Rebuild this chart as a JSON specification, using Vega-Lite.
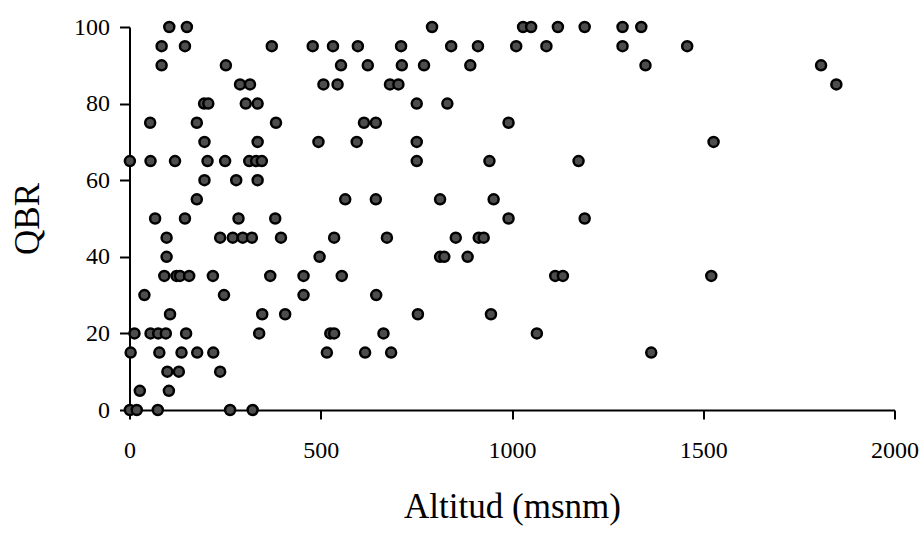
{
  "$schema": "https://vega.github.io/schema/vega-lite/v6.json",
  "width": 765,
  "height": 383,
  "autosize": "none",
  "padding": {"left": 129.5, "top": 27, "right": 26.5, "bottom": 124},
  "background": "white",
  "config": {"view": {"stroke": null}, "font": "Liberation Serif"},
  "data": {"values": [
    {"alt": 104, "qbr": 100}, {"alt": 150, "qbr": 100}, {"alt": 791, "qbr": 100}, {"alt": 1029, "qbr": 100}, {"alt": 1050, "qbr": 100}, {"alt": 1120, "qbr": 100}, {"alt": 1190, "qbr": 100}, {"alt": 1289, "qbr": 100}, {"alt": 1338, "qbr": 100},
    {"alt": 84, "qbr": 95}, {"alt": 145, "qbr": 95}, {"alt": 372, "qbr": 95}, {"alt": 479, "qbr": 95}, {"alt": 532, "qbr": 95}, {"alt": 597, "qbr": 95}, {"alt": 710, "qbr": 95}, {"alt": 841, "qbr": 95}, {"alt": 911, "qbr": 95}, {"alt": 1011, "qbr": 95}, {"alt": 1090, "qbr": 95}, {"alt": 1289, "qbr": 95}, {"alt": 1458, "qbr": 95},
    {"alt": 84, "qbr": 90}, {"alt": 252, "qbr": 90}, {"alt": 553, "qbr": 90}, {"alt": 623, "qbr": 90}, {"alt": 712, "qbr": 90}, {"alt": 770, "qbr": 90}, {"alt": 891, "qbr": 90}, {"alt": 1349, "qbr": 90}, {"alt": 1808, "qbr": 90},
    {"alt": 289, "qbr": 85}, {"alt": 315, "qbr": 85}, {"alt": 507, "qbr": 85}, {"alt": 544, "qbr": 85}, {"alt": 681, "qbr": 85}, {"alt": 703, "qbr": 85}, {"alt": 1848, "qbr": 85},
    {"alt": 195, "qbr": 80}, {"alt": 206, "qbr": 80}, {"alt": 304, "qbr": 80}, {"alt": 335, "qbr": 80}, {"alt": 751, "qbr": 80}, {"alt": 831, "qbr": 80},
    {"alt": 54, "qbr": 75}, {"alt": 176, "qbr": 75}, {"alt": 383, "qbr": 75}, {"alt": 613, "qbr": 75}, {"alt": 644, "qbr": 75}, {"alt": 991, "qbr": 75},
    {"alt": 196, "qbr": 70}, {"alt": 335, "qbr": 70}, {"alt": 494, "qbr": 70}, {"alt": 594, "qbr": 70}, {"alt": 751, "qbr": 70}, {"alt": 1527, "qbr": 70},
    {"alt": 1, "qbr": 65}, {"alt": 55, "qbr": 65}, {"alt": 119, "qbr": 65}, {"alt": 204, "qbr": 65}, {"alt": 250, "qbr": 65}, {"alt": 313, "qbr": 65}, {"alt": 331, "qbr": 65}, {"alt": 346, "qbr": 65}, {"alt": 751, "qbr": 65}, {"alt": 941, "qbr": 65}, {"alt": 1174, "qbr": 65},
    {"alt": 196, "qbr": 60}, {"alt": 279, "qbr": 60}, {"alt": 335, "qbr": 60},
    {"alt": 176, "qbr": 55}, {"alt": 564, "qbr": 55}, {"alt": 644, "qbr": 55}, {"alt": 812, "qbr": 55}, {"alt": 952, "qbr": 55},
    {"alt": 67, "qbr": 50}, {"alt": 145, "qbr": 50}, {"alt": 285, "qbr": 50}, {"alt": 381, "qbr": 50}, {"alt": 991, "qbr": 50}, {"alt": 1190, "qbr": 50},
    {"alt": 97, "qbr": 45}, {"alt": 237, "qbr": 45}, {"alt": 270, "qbr": 45}, {"alt": 296, "qbr": 45}, {"alt": 320, "qbr": 45}, {"alt": 396, "qbr": 45}, {"alt": 535, "qbr": 45}, {"alt": 673, "qbr": 45}, {"alt": 853, "qbr": 45}, {"alt": 913, "qbr": 45}, {"alt": 926, "qbr": 45},
    {"alt": 97, "qbr": 40}, {"alt": 497, "qbr": 40}, {"alt": 812, "qbr": 40}, {"alt": 823, "qbr": 40}, {"alt": 884, "qbr": 40},
    {"alt": 91, "qbr": 35}, {"alt": 123, "qbr": 35}, {"alt": 132, "qbr": 35}, {"alt": 156, "qbr": 35}, {"alt": 218, "qbr": 35}, {"alt": 368, "qbr": 35}, {"alt": 455, "qbr": 35}, {"alt": 555, "qbr": 35}, {"alt": 1113, "qbr": 35}, {"alt": 1133, "qbr": 35}, {"alt": 1521, "qbr": 35},
    {"alt": 39, "qbr": 30}, {"alt": 247, "qbr": 30}, {"alt": 455, "qbr": 30}, {"alt": 645, "qbr": 30},
    {"alt": 106, "qbr": 25}, {"alt": 347, "qbr": 25}, {"alt": 407, "qbr": 25}, {"alt": 754, "qbr": 25}, {"alt": 945, "qbr": 25},
    {"alt": 13, "qbr": 20}, {"alt": 55, "qbr": 20}, {"alt": 75, "qbr": 20}, {"alt": 95, "qbr": 20}, {"alt": 148, "qbr": 20}, {"alt": 339, "qbr": 20}, {"alt": 525, "qbr": 20}, {"alt": 535, "qbr": 20}, {"alt": 664, "qbr": 20}, {"alt": 1065, "qbr": 20},
    {"alt": 3, "qbr": 15}, {"alt": 78, "qbr": 15}, {"alt": 136, "qbr": 15}, {"alt": 177, "qbr": 15}, {"alt": 219, "qbr": 15}, {"alt": 516, "qbr": 15}, {"alt": 616, "qbr": 15}, {"alt": 684, "qbr": 15}, {"alt": 1364, "qbr": 15},
    {"alt": 99, "qbr": 10}, {"alt": 129, "qbr": 10}, {"alt": 237, "qbr": 10},
    {"alt": 27, "qbr": 5}, {"alt": 103, "qbr": 5},
    {"alt": 1, "qbr": 0}, {"alt": 19, "qbr": 0}, {"alt": 74, "qbr": 0}, {"alt": 263, "qbr": 0}, {"alt": 322, "qbr": 0}
  ]},
  "mark": {"type": "point", "shape": "circle", "filled": true, "fill": "#4d4d4d", "stroke": "#000000", "strokeWidth": 2.5, "size": 100, "opacity": 1, "clip": false},
  "encoding": {
    "x": {
      "field": "alt", "type": "quantitative",
      "scale": {"domain": [0, 2000], "nice": false, "zero": true},
      "axis": {
        "title": "Altitud (msnm)", "values": [0, 500, 1000, 1500, 2000], "format": "d", "grid": false,
        "domainColor": "#000", "domainWidth": 2, "tickColor": "#000", "tickWidth": 2, "tickSize": 9,
        "labelFont": "Liberation Serif", "labelFontSize": 24, "labelColor": "#000", "labelPadding": 19, "labelFlush": false,
        "titleFont": "Liberation Serif", "titleFontSize": 35, "titleFontWeight": "normal", "titleColor": "#000", "titlePadding": 27
      }
    },
    "y": {
      "field": "qbr", "type": "quantitative",
      "scale": {"domain": [0, 100], "nice": false},
      "axis": {
        "title": "QBR", "values": [0, 20, 40, 60, 80, 100], "format": "d", "grid": false,
        "domainColor": "#000", "domainWidth": 2, "tickColor": "#000", "tickWidth": 2, "tickSize": 10,
        "labelFont": "Liberation Serif", "labelFontSize": 24, "labelColor": "#000", "labelPadding": 10, "labelFlush": false,
        "titleFont": "Liberation Serif", "titleFontSize": 35, "titleFontWeight": "normal", "titleColor": "#000", "titlePadding": 28
      }
    }
  }
}
